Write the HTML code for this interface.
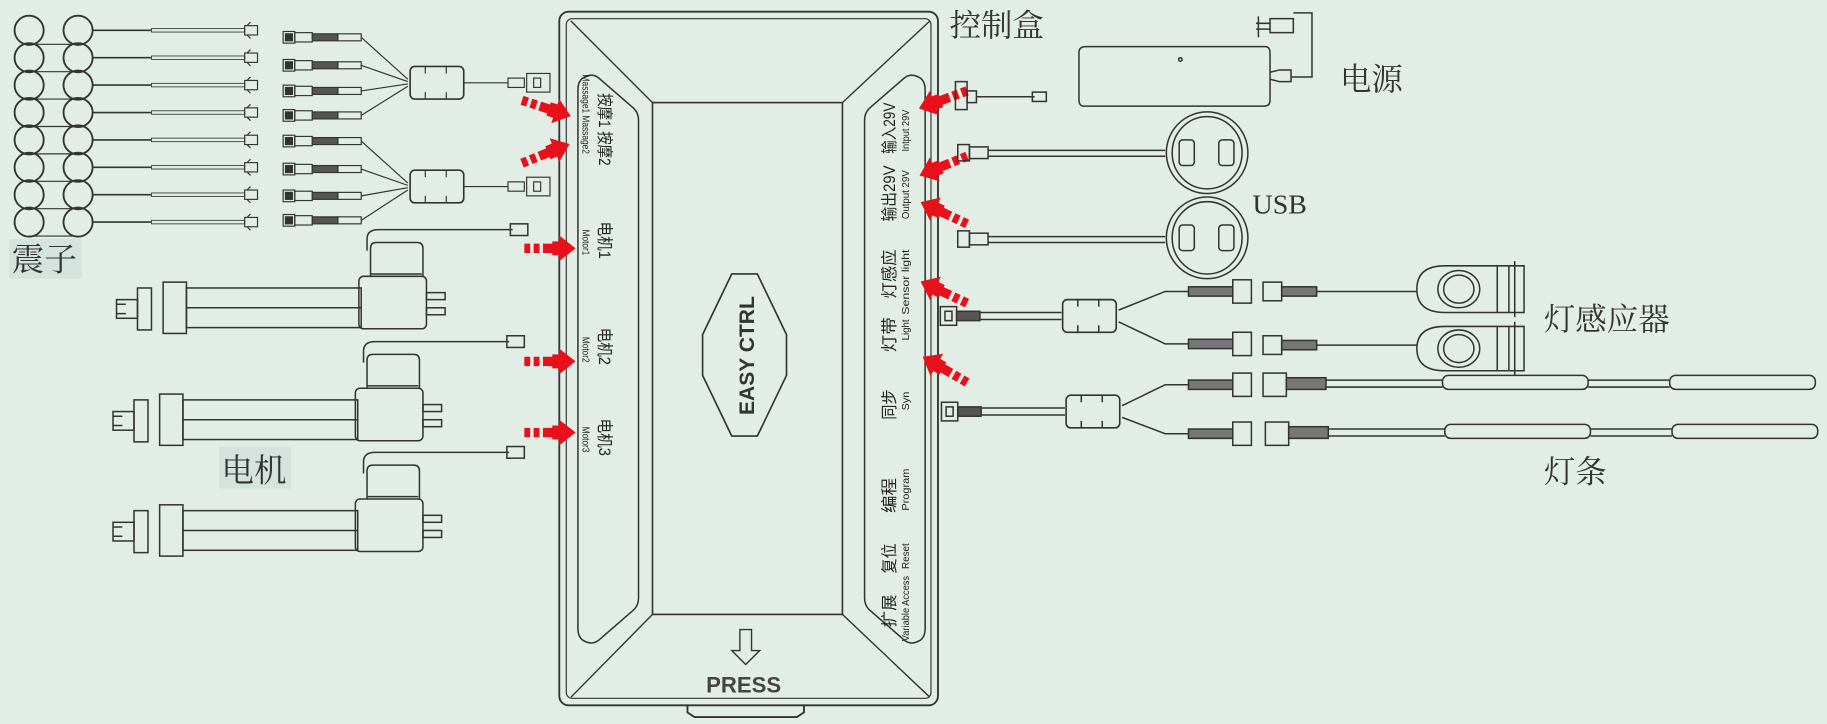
<!DOCTYPE html>
<html><head><meta charset="utf-8"><style>
html,body{margin:0;padding:0;background:#e2ede6;}
svg{display:block}
text{font-family:"Liberation Sans","Noto Sans CJK SC",sans-serif;}
.cn{font-family:"Liberation Serif","Noto Serif CJK SC",serif;fill:#333;}
</style></head><body>
<svg width="1827" height="724" viewBox="0 0 1568 621" preserveAspectRatio="none" xmlns="http://www.w3.org/2000/svg">
<defs>
<g id="vib"><circle cx="25" cy="0" r="12.5" fill="none" stroke="#333" stroke-width="1.6"/><circle cx="67" cy="0" r="12.5" fill="none" stroke="#333" stroke-width="1.6"/><line x1="25" y1="12" x2="67" y2="12" stroke="#333"/><line x1="80" y1="0" x2="130" y2="0" stroke="#333" stroke-width="1.4"/><rect x="130" y="-1.5" width="80" height="3" fill="none" stroke="#444" stroke-width=".8"/><rect x="210" y="-4" width="11" height="8" fill="none" stroke="#333"/><path d="M212,-4l3,-3M212,4l3,3" stroke="#333"/></g>
<g id="jst"><rect x="0" y="-5" width="10" height="10" fill="none" stroke="#333"/><rect x="2" y="-3" width="6" height="6" fill="#333"/><rect x="10" y="-4" width="15" height="8" fill="none" stroke="#333"/><rect x="25" y="-3" width="22" height="6" fill="#555"/><rect x="47" y="-3" width="20" height="6" fill="none" stroke="#333"/></g>
<g id="fer"><rect x="0" y="-14" width="46" height="28" rx="4" fill="none" stroke="#333" stroke-width="1.4"/><path d="M13,-14v6M31,-14v6M13,14v-6M31,14v-6" stroke="#333"/></g>
<g id="motor" fill="none" stroke="#333" stroke-width="1.3"><rect x="100" y="20" width="18" height="16"/><path d="M100,24h8M100,32h8"/><rect x="118" y="10" width="12" height="36"/><rect x="140" y="5" width="20" height="44"/><rect x="160" y="10" width="150" height="34"/><line x1="160" y1="27" x2="310" y2="27"/><rect x="308" y="0" width="58" height="45" rx="4"/><path d="M318,0v-24q0-5 5-5h35q5 0 5 5v24"/><line x1="318" y1="-2" x2="362" y2="-2"/><rect x="366" y="14" width="16" height="6"/><rect x="366" y="27" width="16" height="6"/><path d="M315,-22v-10q0-8 10-8h115"/><rect x="438" y="-45" width="15" height="10"/></g>
<g id="arrow"><path d="M0,-4h5v8h-5zM8,-4h5v8h-5zM16,-4h8v8h-8zM24,-6h6v-5l14,11l-14,11v-5h-6z" fill="#e8101a"/></g>
<g id="plug"><rect x="0" y="-8" width="14" height="16" fill="none" stroke="#333"/><rect x="4" y="-4" width="6" height="8" fill="none" stroke="#333"/><rect x="14" y="-4" width="20" height="8" fill="#555"/></g>
</defs>

<g>
<use href="#vib" y="26"/><use href="#vib" y="49.5"/><use href="#vib" y="73"/><use href="#vib" y="96.5"/><use href="#vib" y="120"/><use href="#vib" y="143.5"/><use href="#vib" y="167"/><use href="#vib" y="190.5"/>
</g>
<rect x="8" y="205" width="62" height="34" fill="#d4e3dd"/>
<text x="10" y="232" class="cn" font-size="28">震子</text>

<g stroke="#333" fill="none">
<use href="#jst" x="243" y="32"/><use href="#jst" x="243" y="56"/><use href="#jst" x="243" y="78"/><use href="#jst" x="243" y="99"/>
<path d="M310,32L350,68M310,56L350,70M310,78L350,72M310,99L350,74"/>
<use href="#fer" x="352" y="71"/>
<path d="M398,71h38"/><rect x="436" y="67" width="14" height="8"/><rect x="452" y="63" width="20" height="16"/><rect x="458" y="67" width="6" height="8"/>
<use href="#jst" x="243" y="121"/><use href="#jst" x="243" y="145"/><use href="#jst" x="243" y="168"/><use href="#jst" x="243" y="189"/>
<path d="M310,121L350,157M310,145L350,159M310,168L350,161M310,189L350,163"/>
<use href="#fer" x="352" y="160"/>
<path d="M398,160h38"/><rect x="436" y="156" width="14" height="8"/><rect x="452" y="152" width="20" height="16"/><rect x="458" y="156" width="6" height="8"/>
</g>

<use href="#motor" x="0" y="237"/>
<use href="#motor" x="-3" y="333"/>
<use href="#motor" x="-3" y="428"/>
<rect x="188" y="383" width="62" height="36" fill="#d4e3dd"/>
<text x="190" y="413" class="cn" font-size="28">电机</text>

<g fill="none" stroke="#333" stroke-width="1.6">
<rect x="480" y="10" width="325" height="595" rx="8"/>
<rect x="486" y="16" width="313" height="583" rx="5" stroke-width="1"/>
<path d="M590,605v6l6,4h88l6,-4v-6"/>
<rect x="560" y="88" width="163" height="439" stroke-width="1.4"/>
<path d="M490,18L560,88M798,18L723,88M490,598L560,527M798,598L723,527" stroke-width="1.2"/>
<path d="M500,67q8-5 14,0l30,26q4,4 4,10v410q0,6-4,10l-30,26q-6,5-14,0q-4-3-4-10v-462q0-7 4-10z" stroke-width="1.3"/>
<path d="M790,67q-8-5-14,0l-30,26q-4,4-4,10v410q0,6 4,10l30,26q6,5 14,0q4-3 4-10v-462q0-7-4-10z" stroke-width="1.3"/>
<path d="M628,235h22l25,52v35l-25,52h-22l-25,-52v-35z" stroke-width="1.4"/>
<path d="M635,540h10v18h7l-12,12l-12,-12h7z" stroke-width="1.2"/>
</g>
<text transform="translate(647,356) rotate(-90)" font-size="18" font-weight="bold" fill="#333" textLength="102" lengthAdjust="spacingAndGlyphs">EASY CTRL</text>
<text x="606" y="594" font-size="19" font-weight="bold" fill="#444">PRESS</text>

<g fill="#222">
<text transform="translate(514,80) rotate(90)" font-size="14" textLength="62" lengthAdjust="spacingAndGlyphs">按摩1 按摩2</text>
<text transform="translate(500,64) rotate(90)" font-size="9" textLength="68" lengthAdjust="spacingAndGlyphs">Massage1 Massage2</text>
<text transform="translate(514,190) rotate(90)" font-size="14" textLength="32" lengthAdjust="spacingAndGlyphs">电机1</text>
<text transform="translate(500,197) rotate(90)" font-size="9" textLength="22" lengthAdjust="spacingAndGlyphs">Motor1</text>
<text transform="translate(514,281) rotate(90)" font-size="14" textLength="32" lengthAdjust="spacingAndGlyphs">电机2</text>
<text transform="translate(500,289) rotate(90)" font-size="9" textLength="22" lengthAdjust="spacingAndGlyphs">Motor2</text>
<text transform="translate(514,359) rotate(90)" font-size="14" textLength="32" lengthAdjust="spacingAndGlyphs">电机3</text>
<text transform="translate(500,366) rotate(90)" font-size="9" textLength="22" lengthAdjust="spacingAndGlyphs">Motor3</text>
</g>
<g fill="#222">
<text transform="translate(768,132) rotate(-90)" font-size="14" textLength="44" lengthAdjust="spacingAndGlyphs">输入29V</text>
<text transform="translate(780,130) rotate(-90)" font-size="9" textLength="36" lengthAdjust="spacingAndGlyphs">Intput 29V</text>
<text transform="translate(768,190) rotate(-90)" font-size="14" textLength="48" lengthAdjust="spacingAndGlyphs">输出29V</text>
<text transform="translate(780,188) rotate(-90)" font-size="9" textLength="42" lengthAdjust="spacingAndGlyphs">Output 29V</text>
<text transform="translate(768,256) rotate(-90)" font-size="14" textLength="42" lengthAdjust="spacingAndGlyphs">灯感应</text>
<text transform="translate(780,270) rotate(-90)" font-size="9" textLength="56" lengthAdjust="spacingAndGlyphs">Sensor light</text>
<text transform="translate(768,302) rotate(-90)" font-size="14" textLength="30" lengthAdjust="spacingAndGlyphs">灯带</text>
<text transform="translate(780,292) rotate(-90)" font-size="9" textLength="18" lengthAdjust="spacingAndGlyphs">Light</text>
<text transform="translate(768,360) rotate(-90)" font-size="14" textLength="26" lengthAdjust="spacingAndGlyphs">同步</text>
<text transform="translate(780,352) rotate(-90)" font-size="9" textLength="16" lengthAdjust="spacingAndGlyphs">Syn</text>
<text transform="translate(768,440) rotate(-90)" font-size="14" textLength="30" lengthAdjust="spacingAndGlyphs">编程</text>
<text transform="translate(780,438) rotate(-90)" font-size="9" textLength="36" lengthAdjust="spacingAndGlyphs">Program</text>
<text transform="translate(768,492) rotate(-90)" font-size="14" textLength="26" lengthAdjust="spacingAndGlyphs">复位</text>
<text transform="translate(780,488) rotate(-90)" font-size="9" textLength="22" lengthAdjust="spacingAndGlyphs">Reset</text>
<text transform="translate(768,538) rotate(-90)" font-size="14" textLength="28" lengthAdjust="spacingAndGlyphs">扩展</text>
<text transform="translate(780,550) rotate(-90)" font-size="9" textLength="56" lengthAdjust="spacingAndGlyphs">Variable Access</text>
</g>

<use href="#arrow" transform="translate(448,86) rotate(18)"/>
<use href="#arrow" transform="translate(448,140) rotate(-22)"/>
<use href="#arrow" x="450" y="213"/>
<use href="#arrow" x="450" y="310"/>
<use href="#arrow" x="450" y="371"/>
<use href="#arrow" transform="translate(830,78) rotate(160)"/>
<use href="#arrow" transform="translate(830,134) rotate(158)"/>
<use href="#arrow" transform="translate(830,192) rotate(-155)"/>
<use href="#arrow" transform="translate(830,260) rotate(-155)"/>
<use href="#arrow" transform="translate(830,328) rotate(-150)"/>

<text x="815" y="31" class="cn" font-size="27">控制盒</text>
<g fill="none" stroke="#333" stroke-width="1.3">
<rect x="820" y="70" width="10" height="24"/><rect x="830" y="78" width="8" height="10"/><path d="M838,83h50"/><rect x="886" y="79" width="12" height="8"/>
<path d="M932,40h154q4,0 4,6v40q0,5-5,5h-155q-4,0-4-6v-40q0-5 6-5z"/>
<path d="M1090,62l8,-2h10v10h-10l-8,-2"/><path d="M1108,66h18v-55h-16"/>
<rect x="1090" y="16" width="20" height="12"/><path d="M1078,20h12M1078,25h12M1080,14v18"/>
<circle cx="1013" cy="51" r="1.5"/>
</g>
<text x="1150" y="77" class="cn" font-size="27">电源</text>
<g fill="none" stroke="#333" stroke-width="1.3">
<rect x="822" y="124" width="10" height="14"/><rect x="832" y="126" width="16" height="10"/><path d="M848,129h152M848,134h152"/>
<rect x="822" y="198" width="10" height="14"/><rect x="832" y="200" width="16" height="10"/><path d="M848,203h152M848,208h152"/>
<ellipse cx="1036" cy="131" rx="35" ry="35"/><ellipse cx="1036" cy="131" rx="30" ry="31"/>
<rect x="1012" y="120" width="13" height="22" rx="3"/><rect x="1046" y="120" width="13" height="22" rx="3"/>
<ellipse cx="1036" cy="204" rx="35" ry="35"/><ellipse cx="1036" cy="204" rx="30" ry="31"/>
<rect x="1012" y="193" width="13" height="22" rx="3"/><rect x="1046" y="193" width="13" height="22" rx="3"/>
</g>
<text x="1075" y="183" class="cn" font-size="24">USB</text>

<g fill="none" stroke="#333" stroke-width="1.3">
<use href="#plug" x="807" y="271"/><path d="M841,268h70M841,274h70"/>
<use href="#fer" x="912" y="271"/>
<path d="M960,266L1000,250h20M960,276L1000,295h20"/>
<rect x="1020" y="246" width="38" height="8" fill="#777"/><rect x="1058" y="240" width="16" height="20"/>
<rect x="1020" y="291" width="38" height="8" fill="#777"/><rect x="1058" y="285" width="16" height="20"/>
<rect x="1084" y="242" width="16" height="16"/><rect x="1100" y="246" width="30" height="8" fill="#777"/><path d="M1130,250h86"/>
<rect x="1084" y="288" width="16" height="16"/><rect x="1100" y="292" width="30" height="8" fill="#777"/><path d="M1130,296h86"/>
<path d="M1240,228h68v40h-68q-24,0-24-20q0-20 24-20z"/><ellipse cx="1252" cy="248" rx="18" ry="16"/><ellipse cx="1252" cy="248" rx="13" ry="12"/><path d="M1285,228v40M1295,228v40M1300,224v48"/>
<path d="M1240,280h68v38h-68q-24,0-24-19q0-19 24-19z"/><ellipse cx="1252" cy="299" rx="18" ry="16"/><ellipse cx="1252" cy="299" rx="13" ry="12"/><path d="M1285,280v38M1295,280v38M1300,276v46"/>
</g>
<text x="1325" y="283" class="cn" font-size="27">灯感应器</text>

<g fill="none" stroke="#333" stroke-width="1.3">
<use href="#plug" x="808" y="353"/><path d="M842,350h72M842,356h72"/>
<use href="#fer" x="915" y="353"/>
<path d="M963,348L1000,330h20M963,358L1000,372h20"/>
<rect x="1020" y="326" width="38" height="8" fill="#777"/><rect x="1058" y="320" width="16" height="20"/>
<rect x="1020" y="368" width="38" height="8" fill="#777"/><rect x="1058" y="362" width="16" height="20"/>
<rect x="1084" y="320" width="20" height="20"/><rect x="1104" y="324" width="34" height="10" fill="#777"/><path d="M1138,326h100M1138,332h100"/>
<rect x="1238" y="322" width="125" height="12" rx="5"/><path d="M1363,326h70M1363,332h70"/><rect x="1433" y="322" width="125" height="12" rx="5"/>
<rect x="1086" y="362" width="20" height="20"/><rect x="1106" y="366" width="34" height="10" fill="#777"/><path d="M1140,368h100M1140,374h100"/>
<rect x="1240" y="364" width="125" height="12" rx="5"/><path d="M1365,368h70M1365,374h70"/><rect x="1435" y="364" width="125" height="12" rx="5"/>
</g>
<text x="1325" y="414" class="cn" font-size="27">灯条</text>
</svg>
</body></html>
